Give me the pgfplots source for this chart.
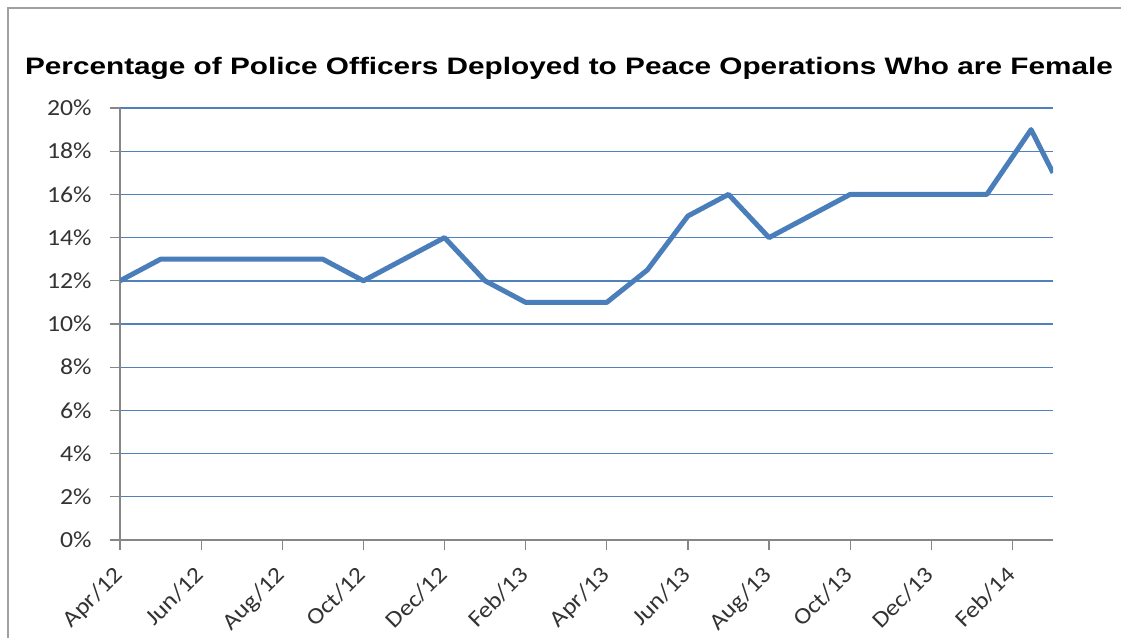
\documentclass[border=0pt]{standalone}
\usepackage{fontspec}
\setmainfont[FakeStretch=1.12]{Carlito}
\newfontfamily\titlefont[FakeStretch=1.25]{Liberation Sans}
\usepackage{pgfplots}
\pgfplotsset{compat=1.18}
\definecolor{lineblue}{HTML}{4A7EBB}
\definecolor{gridblue}{HTML}{4F81BD}
\definecolor{axisgray}{HTML}{868686}
\definecolor{framegray}{HTML}{A0A0A0}
\begin{document}
\begin{tikzpicture}
\path[use as bounding box] (0pt,0pt) rectangle (560.5pt,319pt);
\draw[framegray,line width=0.8pt] (4pt,0pt) -- (4pt,315pt) -- (562pt,315pt);
\node[anchor=base,inner sep=0pt] at (284.5pt,281.5pt) {\titlefont\bfseries\fontsize{11.9}{14}\selectfont Percentage of Police Officers Deployed to Peace Operations Who are Female};
\begin{axis}[
  at={(60pt,49pt)}, anchor=south west,
  scale only axis, width=466.5pt, height=216pt,
  xmin=0, xmax=23, ymin=0, ymax=20,
  axis lines=left, axis line style={-, axisgray, line width=0.6pt},
  xtick={0,2,...,22},
  xticklabels={Apr/12,Jun/12,Aug/12,Oct/12,Dec/12,Feb/13,Apr/13,Jun/13,Aug/13,Oct/13,Dec/13,Feb/14},
  ytick={0,2,...,20},
  yticklabels={0\%,2\%,4\%,6\%,8\%,10\%,12\%,14\%,16\%,18\%,20\%},
  tick align=outside, major tick length=5pt,
  tick style={axisgray, line width=0.6pt},
  ymajorgrids, grid style={gridblue, line width=0.7pt},
  ticklabel style={font=\fontsize{11.5}{14}\selectfont, text=black!80},
  xticklabel style={rotate=45, anchor=north east, inner sep=1pt, yshift=-1.5pt, xshift=-6.8pt},
  yticklabel style={inner sep=1pt, xshift=-8pt},
]
\addplot[lineblue, line width=2.5pt, line join=round] coordinates {
(0,12) (1,13) (2,13) (3,13) (4,13) (5,13) (6,12) (7,13) (8,14) (9,12)
(10,11) (11,11) (12,11) (13,12.5) (14,15) (15,16) (16,14) (17,15) (18,16)
(19,16) (20,16) (21.37,16) (22.46,19) (23,17)
};
\end{axis}
\end{tikzpicture}
\end{document}
